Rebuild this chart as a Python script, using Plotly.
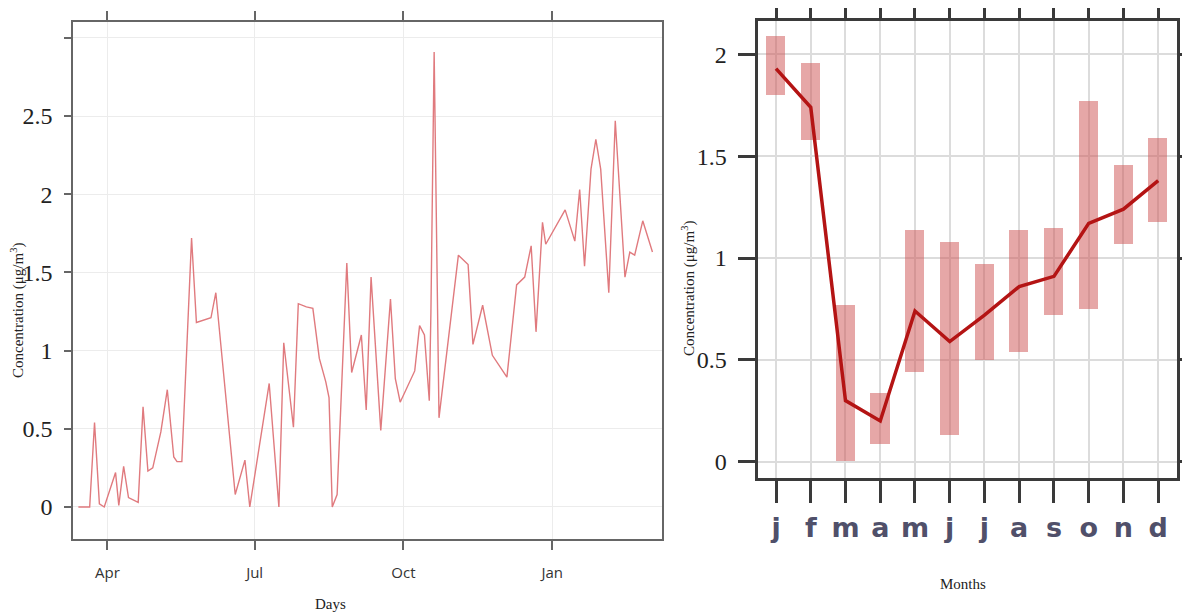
import plotly.graph_objects as go

# Daily concentrations (left panel).
days = [
    "2017-03-14", "2017-03-21", "2017-03-24", "2017-03-27", "2017-03-30",
    "2017-04-06", "2017-04-08", "2017-04-11", "2017-04-14", "2017-04-20",
    "2017-04-23", "2017-04-26", "2017-04-29", "2017-05-04", "2017-05-08",
    "2017-05-12", "2017-05-14", "2017-05-17", "2017-05-23", "2017-05-26",
    "2017-06-04", "2017-06-07", "2017-06-19", "2017-06-25", "2017-06-28",
    "2017-07-10", "2017-07-16", "2017-07-19", "2017-07-25", "2017-07-28",
    "2017-08-02", "2017-08-06", "2017-08-10", "2017-08-14", "2017-08-16",
    "2017-08-18", "2017-08-21", "2017-08-27", "2017-08-30", "2017-09-05",
    "2017-09-08", "2017-09-11", "2017-09-17", "2017-09-23", "2017-09-26",
    "2017-09-29", "2017-10-08", "2017-10-11", "2017-10-14", "2017-10-17",
    "2017-10-18", "2017-10-20", "2017-10-23", "2017-11-04", "2017-11-10",
    "2017-11-13", "2017-11-19", "2017-11-25", "2017-12-04", "2017-12-10",
    "2017-12-15", "2017-12-19", "2017-12-22", "2017-12-26", "2017-12-28",
    "2018-01-09", "2018-01-15", "2018-01-18", "2018-01-21", "2018-01-25",
    "2018-01-28", "2018-01-31", "2018-02-05", "2018-02-09", "2018-02-15",
    "2018-02-18", "2018-02-21", "2018-02-26", "2018-03-04",
]
daily_conc = [
    0, 0, 0.54, 0.02, 0,
    0.22, 0.01, 0.26, 0.06, 0.03,
    0.64, 0.23, 0.25, 0.48, 0.75,
    0.32, 0.29, 0.29, 1.72, 1.18,
    1.21, 1.37, 0.08, 0.30, 0,
    0.79, 0, 1.05, 0.51, 1.30,
    1.28, 1.27, 0.95, 0.80, 0.70,
    0, 0.08, 1.56, 0.86, 1.10,
    0.62, 1.47, 0.49, 1.33, 0.82,
    0.67, 0.87, 1.16, 1.10, 0.68,
    1.24, 2.91, 0.57, 1.61, 1.55,
    1.04, 1.29, 0.97, 0.83, 1.42,
    1.47, 1.67, 1.12, 1.82, 1.68,
    1.90, 1.70, 2.03, 1.54, 2.16,
    2.35, 2.16, 1.37, 2.47, 1.47,
    1.63, 1.61, 1.83, 1.63,
]
day_tick_dates = ["2017-04-01", "2017-07-01", "2017-10-01", "2018-01-01"]
day_tick_labels = ["Apr", "Jul", "Oct", "Jan"]

# Monthly summary (right panel).
months = ["j", "f", "m", "a", "m", "j", "j", "a", "s", "o", "n", "d"]
month_mean = [1.93, 1.74, 0.30, 0.20, 0.74, 0.59, 0.72, 0.86, 0.91, 1.17, 1.24, 1.38]
month_low = [1.80, 1.58, 0.005, 0.09, 0.44, 0.13, 0.50, 0.54, 0.72, 0.75, 1.07, 1.18]
month_high = [2.09, 1.96, 0.77, 0.34, 1.14, 1.08, 0.97, 1.14, 1.15, 1.77, 1.46, 1.59]

month_pos = list(range(len(months)))
box_height = [h - l for h, l in zip(month_high, month_low)]

serif = "Liberation Serif"
fig = go.Figure()

fig.add_trace(go.Scatter(
    x=days, y=daily_conc, mode="lines",
    line=dict(color="#E07A7E", width=1.4),
    xaxis="x", yaxis="y", showlegend=False,
))
fig.add_trace(go.Bar(
    x=month_pos, y=box_height, base=month_low, width=0.55,
    marker=dict(color="rgba(205,80,80,0.5)", line=dict(width=0)),
    xaxis="x2", yaxis="y2", showlegend=False,
))
fig.add_trace(go.Scatter(
    x=month_pos, y=month_mean, mode="lines",
    line=dict(color="#B41414", width=3.5),
    xaxis="x2", yaxis="y2", showlegend=False,
))

# the page puts the plot 8px in from the top-left corner, domains allow for that
fig.update_layout(
    width=1190, height=615,
    margin=dict(l=0, r=0, t=0, b=0, autoexpand=False),
    paper_bgcolor="white", plot_bgcolor="white",
    xaxis=dict(
        domain=[0.0546, 0.5496], anchor="y", type="date", automargin=False,
        range=["2017-03-10 16:00", "2018-03-09 22:00"],
        tickvals=day_tick_dates, ticktext=day_tick_labels,
        ticks="outside", ticklen=9, tickwidth=1.5, tickcolor="#666",
        showline=True, linecolor="#666", linewidth=1.5, mirror="ticks",
        showgrid=True, gridcolor="#ececec", gridwidth=1,
        tickfont=dict(family="Open Sans", size=15, color="#333"),
        ticklabelstandoff=10,
    ),
    yaxis=dict(
        domain=[0.1366, 0.9777], anchor="x", automargin=False,
        range=[-0.2046, 3.103],
        tickvals=[0, 0.5, 1, 1.5, 2, 2.5, 3],
        ticktext=["0", "0.5", "1", "1.5", "2", "2.5", ""],
        ticks="outside", ticklen=7, tickwidth=1.5, tickcolor="#666",
        showline=True, linecolor="#666", linewidth=1.5, mirror=True,
        showgrid=True, gridcolor="#ececec", gridwidth=1, zeroline=False,
        tickfont=dict(family=serif, size=24, color="#222"),
        ticklabelstandoff=7,
    ),
    xaxis2=dict(
        domain=[0.6305, 0.9826], anchor="y2", automargin=False,
        range=[-0.51, 11.55],
        tickvals=month_pos, ticktext=months,
        ticks="outside", ticklen=22, tickwidth=2.5, tickcolor="#3a3a3a",
        showline=True, linecolor="#3a3a3a", linewidth=2.5, mirror="ticks",
        showgrid=True, gridcolor="#dcdcdc", gridwidth=1.5, zeroline=False,
        tickfont=dict(family="DejaVu Sans", size=27, color="#50506a",
                      weight="bold"),
        ticklabelstandoff=2,
    ),
    yaxis2=dict(
        domain=[0.2353, 0.9793], anchor="x2", automargin=False,
        range=[-0.0815, 2.165],
        tickvals=[0, 0.5, 1, 1.5, 2],
        ticktext=["0", "0.5", "1", "1.5", "2"],
        ticks="outside", ticklen=18, tickwidth=2.5, tickcolor="#3a3a3a",
        showline=True, linecolor="#3a3a3a", linewidth=2.5, mirror="ticks",
        showgrid=True, gridcolor="#dcdcdc", gridwidth=1.5, zeroline=False,
        tickfont=dict(family=serif, size=24, color="#222"),
        ticklabelstandoff=6,
    ),
    bargap=0,
)

title_font = dict(family=serif, size=15, color="#222")
ann = dict(xref="paper", yref="paper", showarrow=False, font=title_font,
           xanchor="center", yanchor="middle")
fig.add_annotation(text="Days", x=0.2706, y=0.0309, **ann)
fig.add_annotation(text="Months", x=0.8025, y=0.0634, **ann)
fig.add_annotation(text="Concentration (μg/m<sup>3</sup>)", x=0.0084, y=0.509,
                   textangle=-90, **ann)
fig.add_annotation(text="Concentration (μg/m<sup>3</sup>)", x=0.5714, y=0.5447,
                   textangle=-90, **ann)

fig.write_html("out.html")
